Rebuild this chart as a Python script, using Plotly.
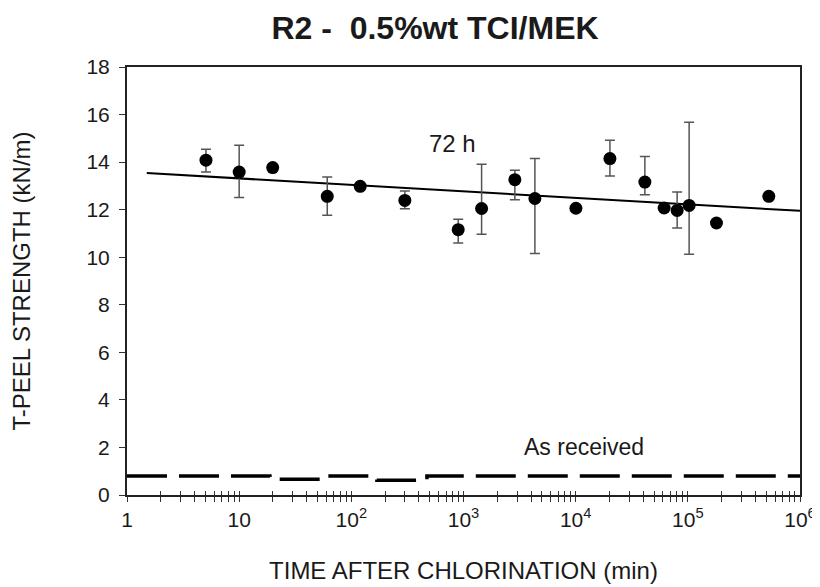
import plotly.graph_objects as go

# ---- data ----
time_min = [5.06, 10.0, 19.9, 61, 120, 300, 897, 1450, 2870, 4330, 10050,
            20200, 41400, 61500, 80300, 102700, 180000, 527000]
peel = [14.08, 13.58, 13.77, 12.56, 12.98, 12.39, 11.16, 12.05, 13.26, 12.47, 12.06,
        14.15, 13.16, 12.07, 11.97, 12.18, 11.44, 12.56]
err_plus = [0.46, 1.13, 0, 0.81, 0, 0.39, 0.44, 1.86, 0.40, 1.68, 0,
            0.77, 1.08, 0, 0.77, 3.5, 0, 0]
err_minus = [0.50, 1.07, 0, 0.80, 0, 0.35, 0.56, 1.08, 0.84, 2.31, 0,
             0.73, 0.53, 0, 0.74, 2.05, 0, 0]

fit_time = [1.5, 1e6]
fit_peel = [13.54, 11.95]

as_received_time = [1, 18.8, 55.8, 169, 472, 1e6]
as_received_peel = [0.80, 0.66, 0.80, 0.62, 0.80, 0.80]

x_tickvals = [1, 10, 100, 1000, 10000, 100000, 1000000]
x_ticktext = ["1", "10", "10<sup>2</sup>", "10<sup>3</sup>", "10<sup>4</sup>",
              "10<sup>5</sup>", "10<sup>6</sup>"]
y_tickvals = [0, 2, 4, 6, 8, 10, 12, 14, 16, 18]

FONT = "Liberation Sans, Arial, sans-serif"
TXT = "#1a1a1a"

W, H = 820, 579  # page body has an 8px margin

fig = go.Figure()

fig.add_trace(go.Scatter(
    x=fit_time, y=fit_peel, mode="lines",
    line=dict(color="black", width=2), showlegend=False, hoverinfo="skip"))

fig.add_trace(go.Scatter(
    x=as_received_time, y=as_received_peel, mode="lines", xaxis="x2",
    line=dict(color="black", width=3.5, dash="40px,12px", shape="hv"),
    showlegend=False, hoverinfo="skip"))

fig.add_trace(go.Scatter(
    x=time_min, y=peel, mode="markers",
    marker=dict(color="black", size=13),
    error_y=dict(type="data", symmetric=False, array=err_plus, arrayminus=err_minus,
                 color="#555555", thickness=1.5, width=5),
    showlegend=False))

fig.add_annotation(x=2.905, y=14.8, text="72 h", showarrow=False,
                   font=dict(family=FONT, size=24, color=TXT))
fig.add_annotation(x=4.07, y=2.0, text="As received", showarrow=False,
                   font=dict(family=FONT, size=23, color=TXT))

fig.update_layout(
    width=W, height=H,
    margin=dict(l=119, r=28, t=59, b=92, autoexpand=False),
    paper_bgcolor="white", plot_bgcolor="white",
    title=dict(text="<b>R2 -  0.5%wt TCI/MEK</b>", x=427 / W, xanchor="center",
               y=1 - 20 / H, yanchor="middle",
               font=dict(family=FONT, size=32, color=TXT)),
    font=dict(family=FONT, size=21, color=TXT),
    xaxis=dict(type="log", range=[0, 6], tickvals=x_tickvals, ticktext=x_ticktext,
               automargin=False,
               ticks="outside", ticklen=5, tickwidth=1, tickcolor="#333",
               minor=dict(ticks="outside", ticklen=5, tickwidth=1, tickcolor="#333",
                          dtick="D1", showgrid=False),
               showline=True, linecolor="#222", linewidth=2, mirror=True,
               showgrid=False, zeroline=False,
               tickfont=dict(family=FONT, size=21, color=TXT),
               title=dict(text="TIME AFTER CHLORINATION (min)", standoff=32,
                          font=dict(family=FONT, size=24, color=TXT))),
    xaxis2=dict(type="log", range=[0, 6], overlaying="x", anchor="y", side="bottom",
                tickvals=x_tickvals, showticklabels=False, automargin=False,
                ticks="inside", ticklen=4, tickwidth=1, tickcolor="#333",
                minor=dict(ticks="inside", ticklen=4, tickwidth=1, tickcolor="#333",
                           dtick="D1", showgrid=False),
                showline=False, showgrid=False, zeroline=False),
    yaxis=dict(range=[0, 18], tickvals=y_tickvals, automargin=False,
               ticks="outside", ticklen=6, tickwidth=1, tickcolor="#333",
               ticklabelstandoff=5,
               showline=True, linecolor="#222", linewidth=2, mirror=True,
               showgrid=False, zeroline=False,
               tickfont=dict(family=FONT, size=21, color=TXT),
               title=dict(text="T-PEEL STRENGTH (kN/m)", standoff=52,
                          font=dict(family=FONT, size=24, color=TXT))),
)

fig.write_html("out.html")
